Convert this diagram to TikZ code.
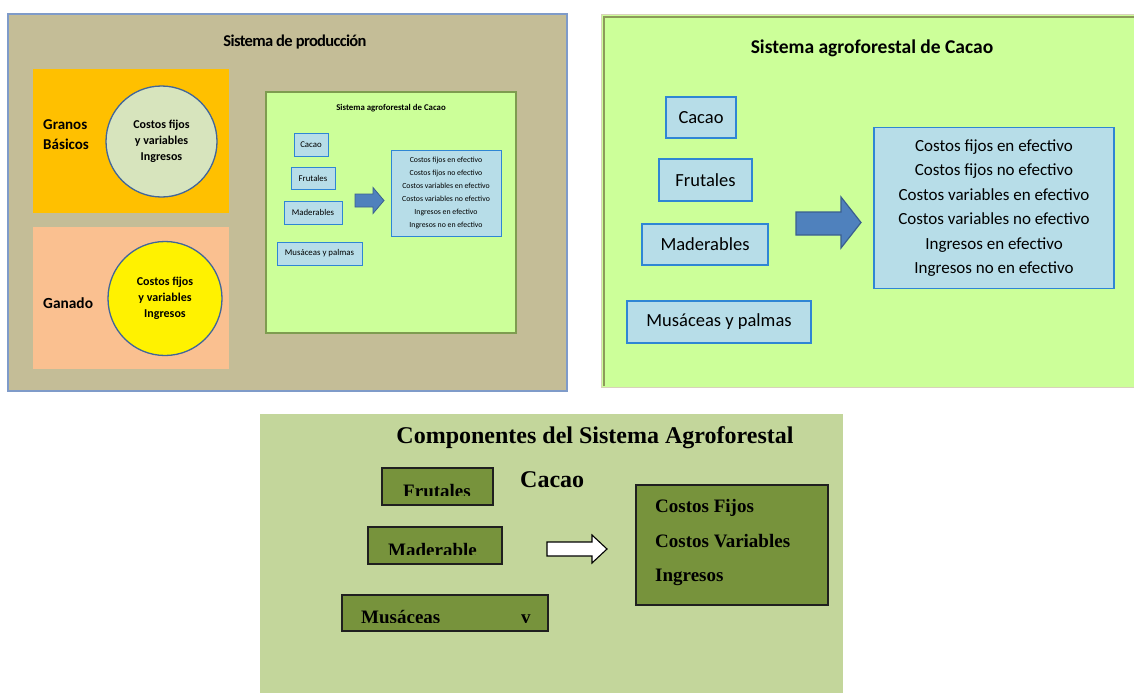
\documentclass[tikz,border=0pt]{standalone}
\usepackage{fontspec}
\setmainfont{Carlito}
\newfontfamily\tms{Liberation Serif}
\newfontfamily\tightcal[LetterSpace=-4]{Carlito}
\definecolor{tan}{HTML}{C4BD97}
\definecolor{panelborder}{HTML}{7F9BC9}
\definecolor{orangebg}{HTML}{FFC000}
\definecolor{peachbg}{HTML}{FAC090}
\definecolor{circfill}{HTML}{D7E4BD}
\definecolor{circline}{HTML}{41669A}
\definecolor{lime}{HTML}{CCFF99}
\definecolor{limeborder}{HTML}{7E9C50}
\definecolor{lightblue}{HTML}{B7DDE8}
\definecolor{blueline}{HTML}{2F86D4}
\definecolor{arrowfill}{HTML}{4F81BD}
\definecolor{arrowline}{HTML}{3A5F8F}
\definecolor{beige}{HTML}{D9D2BA}
\definecolor{olivegray}{HTML}{8C9A5A}
\definecolor{sagebg}{HTML}{C3D69B}
\definecolor{olivebox}{HTML}{77933C}
\begin{document}
\begin{tikzpicture}[x=1pt,y=-1pt,
  bluebox/.style={draw=blueline,fill=lightblue,line width=1.1pt,inner sep=0pt,align=center},
  smallbox/.style={bluebox,line width=0.8pt,font=\fontsize{8.8}{11}\selectfont},
  bigbox/.style={bluebox,line width=1.3pt,font=\fontsize{18.5}{22}\selectfont},
  olbox/.style={draw=black!88,fill=olivebox,line width=1.4pt},
  serifbold/.style={font=\tms\bfseries\fontsize{19}{22}\selectfont,inner sep=0pt},
  circ/.style={circle,draw=circline,line width=1.3pt,inner sep=0pt,align=center,font=\bfseries\fontsize{12}{16}\selectfont}
]
\useasboundingbox (0,0) rectangle (1134,693);
\fill[white] (0,0) rectangle (1134,693);

% ---------- Panel 1 ----------
\draw[fill=tan,draw=panelborder,line width=1.3pt] (8,14) rectangle (567,391);
\node[font=\tightcal\bfseries\fontsize{16.5}{18}\selectfont] (t1) at (295,42) {Sistema de producción};
\fill[orangebg] (33,69) rectangle (229,213);
\fill[peachbg] (33,227) rectangle (229,369);
\node[anchor=west,align=left,inner sep=0pt,font=\bfseries\fontsize{15}{20}\selectfont] (gb) at (43,135) {Granos\\Básicos};
\node[anchor=west,inner sep=0pt,font=\bfseries\fontsize{15.4}{20}\selectfont] (gan) at (43,303) {Ganado};
\node[circ,fill=circfill,minimum size=111pt] (c1) at (161.5,141.5) {Costos fijos\\y variables\\Ingresos};
\node[circ,fill=yellow,minimum size=114pt] (c2) at (165,298.5) {Costos fijos\\y variables\\Ingresos};

\draw[fill=lime,draw=limeborder,line width=1.3pt] (266,92) rectangle (516,333);
\node[font=\bfseries\fontsize{8.8}{10}\selectfont] (t1b) at (391,108) {Sistema agroforestal de Cacao};
\node[smallbox,minimum width=34pt,minimum height=23pt] (s1) at (311,144.5) {Cacao};
\node[smallbox,minimum width=44pt,minimum height=22pt] (s2) at (313,178) {Frutales};
\node[smallbox,minimum width=58pt,minimum height=23pt] (s3) at (313,212.5) {Maderables};
\node[smallbox,minimum width=85pt,minimum height=23pt] (s4) at (319.5,253.5) {Musáceas y palmas};
\node[smallbox,minimum width=110pt,minimum height=86pt,font=\fontsize{7.8}{13}\selectfont] (s5) at (446,193) {Costos fijos en efectivo\\Costos fijos no efectivo\\Costos variables en efectivo\\Costos variables no efectivo\\Ingresos en efectivo\\Ingresos no en efectivo};
\draw[fill=arrowfill,draw=arrowline,line width=0.8pt] (355,194) -- (373,194) -- (373,187.5) -- (384,200.5) -- (373,213.5) -- (373,207) -- (355,207) -- cycle;

% ---------- Panel 2 ----------
\fill[lime] (602,15) rectangle (1134,387);
\draw[beige,line width=1.6pt] (1134,14.5) -- (601.5,14.5) -- (601.5,387.5) -- (1134,387.5);
\draw[olivegray,line width=2pt] (1134,17) -- (604,17) -- (604,386);
\node[font=\bfseries\fontsize{19.5}{22}\selectfont] (t2) at (872,48) {Sistema agroforestal de Cacao};
\node[bigbox,minimum width=70pt,minimum height=41pt] (b1) at (701,117.5) {Cacao};
\node[bigbox,minimum width=93pt,minimum height=42pt] (b2) at (705.5,180) {Frutales};
\node[bigbox,minimum width=126pt,minimum height=41pt] (b3) at (705,244.5) {Maderables};
\node[bigbox,minimum width=184pt,minimum height=42pt] (b4) at (719,322) {Musáceas y palmas};
\node[bigbox,minimum width=240pt,minimum height=161pt,font=\fontsize{17}{24.4}\selectfont] (b5) at (994,208) {Costos fijos en efectivo\\Costos fijos no efectivo\\Costos variables en efectivo\\Costos variables no efectivo\\Ingresos en efectivo\\Ingresos no en efectivo};
\draw[fill=arrowfill,draw=arrowline,line width=1.2pt] (796,212) -- (841,212) -- (841,197) -- (861,222.5) -- (841,248) -- (841,235) -- (796,235) -- cycle;

% ---------- Panel 3 ----------
\fill[sagebg] (260,414) rectangle (843,693);
\node[font=\tms\bfseries\fontsize{24}{26}\selectfont] (t3) at (595,438) {Componentes del Sistema Agroforestal};
\node[anchor=base west,inner sep=0pt,font=\tms\bfseries\fontsize{24}{26}\selectfont] (cac) at (520,487) {Cacao};

\draw[olbox] (382,468) rectangle (493,505);
\begin{scope}
  \clip (383,469) rectangle (492,495.5);
  \node[serifbold,anchor=base west] (fr) at (403,497.5) {Frutales};
\end{scope}
\draw[olbox] (368,527) rectangle (502,564);
\begin{scope}
  \clip (369,528) rectangle (501,554.5);
  \node[serifbold,anchor=base west] (md) at (388,556.5) {Maderable};
\end{scope}
\draw[olbox] (342,595) rectangle (548,631);
\begin{scope}
  \clip (343,596) rectangle (547,622);
  \node[serifbold,anchor=base west] (mu) at (361,623.5) {Musáceas};
  \node[serifbold,anchor=base west] (mv) at (521,623.5) {v};
\end{scope}
\draw[olbox] (636,485) rectangle (828,605);
\node[serifbold,anchor=base west] (r1) at (655,512) {Costos Fijos};
\node[serifbold,anchor=base west] (r2) at (655,547) {Costos Variables};
\node[serifbold,anchor=base west] (r3) at (655,581) {Ingresos};
\draw[fill=white,draw=black,line width=1.1pt] (547,542) -- (592,542) -- (592,535) -- (607,549) -- (592,563) -- (592,556) -- (547,556) -- cycle;
\end{tikzpicture}
\end{document}
